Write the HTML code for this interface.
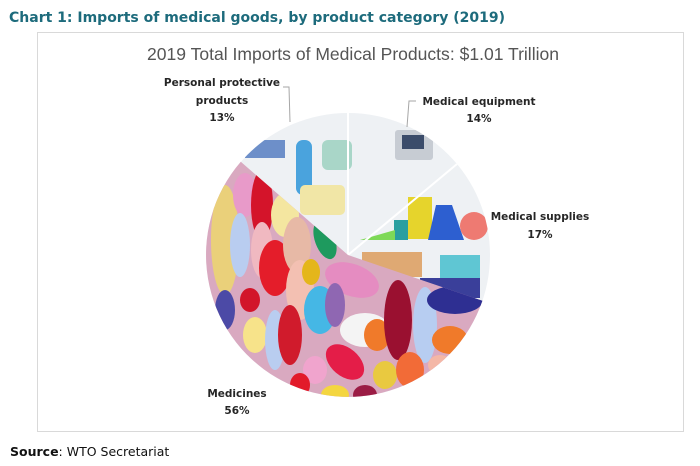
<!DOCTYPE html>
<html><head><meta charset="utf-8"><style>
html,body{margin:0;padding:0;background:#fff;}
body{width:700px;height:462px;position:relative;overflow:hidden;font-family:"DejaVu Sans","Liberation Sans",sans-serif;}
</style></head><body>
<svg width="700" height="462" viewBox="0 0 700 462" xmlns="http://www.w3.org/2000/svg">
<defs>
<clipPath id="med"><path d="M348,255 L482.4,300.8 A142,142 0 1 1 240.8,161.8 Z"/></clipPath>
<clipPath id="pie"><circle cx="348" cy="255" r="142"/></clipPath>
</defs>
<text x="9" y="22" font-family="DejaVu Sans, sans-serif" font-weight="bold" font-size="14" fill="#1d6b7c">Chart 1: Imports of medical goods, by product category (2019)</text>
<rect x="37.5" y="32.5" width="646" height="399" fill="#fff" stroke="#d9d9d9"/>
<text x="353" y="60" text-anchor="middle" font-family="Liberation Sans, sans-serif" font-size="17.5" fill="#555" textLength="412" lengthAdjust="spacingAndGlyphs">2019 Total Imports of Medical Products: $1.01 Trillion</text>

<g clip-path="url(#pie)">
<rect x="200" y="110" width="300" height="300" fill="#eef1f4"/>
<rect x="296" y="140" width="16" height="55" rx="7" fill="#4aa3dd"/>
<rect x="322" y="140" width="30" height="30" rx="6" fill="#a9d6c8"/>
<rect x="300" y="185" width="45" height="30" rx="5" fill="#f1e6a6"/>
<rect x="245" y="140" width="40" height="18" fill="#6d8fc9"/>
<rect x="395" y="130" width="38" height="30" rx="3" fill="#c7ccd3"/>
<rect x="402" y="135" width="22" height="14" fill="#3b4c6a"/>
<rect x="408" y="197" width="24" height="42" fill="#e6d42c"/>
<path d="M436,205 L452,205 L464,240 L428,240 Z" fill="#2d5fd0"/>
<circle cx="474" cy="226" r="14" fill="#ee7a72"/>
<rect x="394" y="220" width="14" height="20" fill="#2a9fa0"/>
<path d="M360,240 L395,230 L395,240 Z" fill="#7ed957"/>
<rect x="362" y="252" width="60" height="25" fill="#d88a3c" opacity="0.7"/>
<rect x="440" y="255" width="40" height="30" fill="#5fc6d3"/>
<rect x="420" y="278" width="60" height="20" fill="#3a3f9a"/>
<line x1="348" y1="255" x2="348" y2="113" stroke="#fff" stroke-width="2"/>
<line x1="348" y1="255" x2="457" y2="164" stroke="#fff" stroke-width="2"/>
</g>

<g clip-path="url(#med)">
<rect x="200" y="110" width="300" height="300" fill="#d9a9c0"/>
<ellipse cx="225" cy="240" rx="14" ry="55" fill="#ead07a"/>
<ellipse cx="245" cy="195" rx="12" ry="22" fill="#e89ac9"/>
<ellipse cx="240" cy="245" rx="10" ry="32" fill="#b9cdf0"/>
<ellipse cx="262" cy="205" rx="11" ry="35" fill="#d4142a"/>
<ellipse cx="262" cy="250" rx="11" ry="28" fill="#f0b9c1"/>
<ellipse cx="285" cy="215" rx="14" ry="22" fill="#f4e6a0"/>
<ellipse cx="275" cy="268" rx="16" ry="28" fill="#e41d2a"/>
<ellipse cx="297" cy="245" rx="14" ry="28" fill="#e7b9a6"/>
<ellipse cx="300" cy="290" rx="14" ry="30" fill="#f3c0b2"/>
<ellipse cx="325" cy="240" rx="10" ry="20" fill="#1e9a5e" transform="rotate(-20 325 240)"/>
<ellipse cx="311" cy="272" rx="9" ry="13" fill="#e4b61b"/>
<ellipse cx="320" cy="310" rx="16" ry="24" fill="#45b7e5"/>
<ellipse cx="352" cy="280" rx="28" ry="16" fill="#e58cc1" transform="rotate(20 352 280)"/>
<ellipse cx="335" cy="305" rx="10" ry="22" fill="#8f67b2"/>
<ellipse cx="365" cy="330" rx="25" ry="17" fill="#f4f4f4"/>
<ellipse cx="377" cy="335" rx="13" ry="16" fill="#f07a2a"/>
<ellipse cx="398" cy="320" rx="14" ry="40" fill="#9a1030"/>
<ellipse cx="425" cy="325" rx="12" ry="38" fill="#b7cdf1"/>
<ellipse cx="455" cy="300" rx="28" ry="14" fill="#2e2f92"/>
<ellipse cx="450" cy="340" rx="18" ry="14" fill="#f07a2a"/>
<ellipse cx="225" cy="310" rx="10" ry="20" fill="#4c4aa6"/>
<ellipse cx="250" cy="300" rx="10" ry="12" fill="#d2152a"/>
<ellipse cx="255" cy="335" rx="12" ry="18" fill="#f7e38a"/>
<ellipse cx="275" cy="340" rx="10" ry="30" fill="#b9cdf0"/>
<ellipse cx="290" cy="335" rx="12" ry="30" fill="#d01b2c"/>
<ellipse cx="345" cy="362" rx="22" ry="14" fill="#e41d48" transform="rotate(40 345 362)"/>
<ellipse cx="315" cy="370" rx="12" ry="14" fill="#f0a4cd"/>
<ellipse cx="385" cy="375" rx="12" ry="14" fill="#e9c940"/>
<ellipse cx="300" cy="385" rx="10" ry="12" fill="#e21b2a"/>
<ellipse cx="410" cy="370" rx="14" ry="18" fill="#f26b37"/>
<ellipse cx="335" cy="395" rx="14" ry="10" fill="#f4d640"/>
<ellipse cx="365" cy="395" rx="12" ry="10" fill="#9b1c45"/>
<ellipse cx="440" cy="365" rx="12" ry="10" fill="#f4b7a6"/>
</g>

<polyline points="283,87 289,87 290,122" fill="none" stroke="#a6a6a6" stroke-width="1"/>
<polyline points="416,101 409,101 407,127" fill="none" stroke="#a6a6a6" stroke-width="1"/>

<g font-family="DejaVu Sans, sans-serif" font-weight="bold" font-size="10.5" fill="#262626" text-anchor="middle">
<text x="222" y="86">Personal protective</text>
<text x="222" y="104">products</text>
<text x="222" y="121">13%</text>
<text x="479" y="105">Medical equipment</text>
<text x="479" y="122">14%</text>
<text x="540" y="220">Medical supplies</text>
<text x="540" y="238">17%</text>
<text x="237" y="397">Medicines</text>
<text x="237" y="414">56%</text>
</g>
<text x="10" y="456" font-family="DejaVu Sans, sans-serif" font-size="12.5" fill="#111"><tspan font-weight="bold">Source</tspan>: WTO Secretariat</text>
</svg>
</body></html>
